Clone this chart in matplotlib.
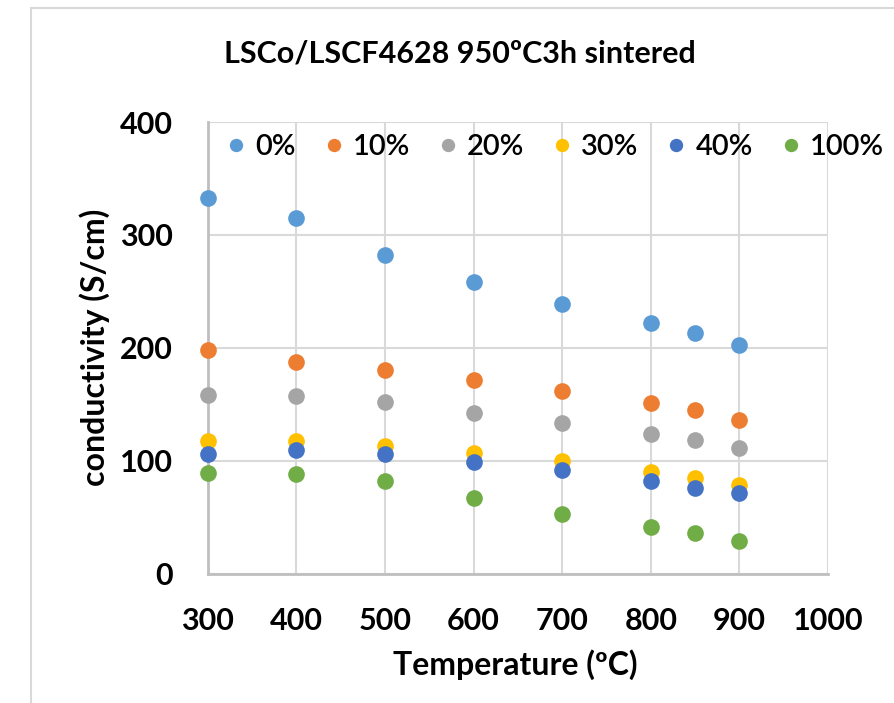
import matplotlib
matplotlib.use("Agg")
import matplotlib.pyplot as plt
from matplotlib.patches import Rectangle

temperature = [300, 400, 500, 600, 700, 800, 850, 900]
series_names = ["0%", "10%", "20%", "30%", "40%", "100%"]
cond_0 = [333, 315, 282, 258, 239, 222, 213, 202]
cond_10 = [198, 187, 180, 171, 162, 151, 145, 136]
cond_20 = [158, 157, 152, 142, 133, 124, 118, 111]
cond_30 = [117, 117, 113, 107, 100, 90, 85, 78]
cond_40 = [106, 109, 106, 99, 92, 82, 76, 71]
cond_100 = [89, 88, 82, 67, 53, 41, 36, 29]
colors = ["#5B9BD5", "#ED7D31", "#A5A5A5", "#FFC000", "#4472C4", "#70AD47"]
x_ticks = [300, 400, 500, 600, 700, 800, 900, 1000]
y_ticks = [0, 100, 200, 300, 400]

plt.rcParams['font.family'] = ['Lato', 'DejaVu Sans']

W, H = 895, 703
fig = plt.figure(figsize=(W / 100, H / 100), dpi=100)
fig.patches.append(Rectangle((31 / W, -0.1), 1.2, 1 - 8 / H + 0.1, transform=fig.transFigure,
                             fill=False, edgecolor="#D9D9D9", linewidth=1.5))
L, R, T, B = 207.7, 828, 122, 573.5
ax = fig.add_axes([L / W, 1 - B / H, (R - L) / W, (B - T) / H])

all_series = [cond_0, cond_10, cond_20, cond_30, cond_40, cond_100]
for name, vals, c in zip(series_names, all_series, colors):
    ax.plot(temperature, vals, linestyle="none", marker="o", markersize=12,
            color=c, markeredgewidth=0, label=name, zorder=3, clip_on=False)

ax.set_xlim(300, 1000)
ax.set_ylim(0, 400)
ax.set_xticks(x_ticks)
ax.set_yticks(y_ticks)
ax.grid(True, color="#D9D9D9", linewidth=1.5)
ax.set_axisbelow(True)
for s in ["top", "right"]:
    ax.spines[s].set_visible(False)
for s in ["left", "bottom"]:
    ax.spines[s].set_color("#BFBFBF")
    ax.spines[s].set_linewidth(2)
ax.tick_params(length=0, labelsize=22)
ax.tick_params(axis="x", pad=24)
ax.tick_params(axis="y", pad=25)
for lab in ax.get_xticklabels() + ax.get_yticklabels():
    lab.set_fontweight("bold")

ax.set_xlabel("Temperature (ºC)", fontsize=23, fontweight="bold")
ax.set_ylabel("conductivity (S/cm)", fontsize=23, fontweight="bold")
ax.xaxis.label.set_va("center")
ax.yaxis.label.set_va("center")
ax.xaxis.set_label_coords((515 - L) / (R - L), (B - 665) / (B - T))
ax.yaxis.set_label_coords((95 - L) / (R - L), 0.5)

fig.text(460 / W, 1 - 62 / H, "LSCo/LSCF4628 950ºC3h sintered", ha="center", va="baseline",
         fontsize=22, fontweight="bold")

leg = ax.legend(loc="center", bbox_to_anchor=(552 / W, 1 - 147 / H), bbox_transform=fig.transFigure,
                ncol=6, frameon=False, prop={"size": 21, "weight": "semibold"},
                handletextpad=0.1, columnspacing=0.75, handlelength=1.1, markerscale=0.8)

fig.savefig("out.png", dpi=100)
